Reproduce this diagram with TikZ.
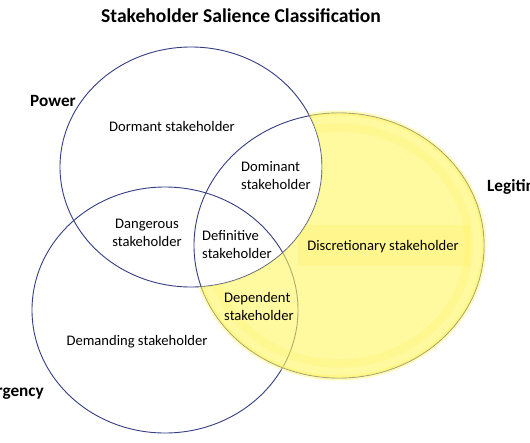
\documentclass[tikz,border=0pt]{standalone}
\usepackage{fontspec}
\setmainfont{Carlito}
\definecolor{circ}{RGB}{52,62,130}
\definecolor{hl}{RGB}{255,245,95}
\definecolor{hlband}{RGB}{255,238,60}
\begin{document}
\begin{tikzpicture}[x=1pt,y=-1pt,
  ring/.style={draw=circ,line width=0.9pt},
  lbl/.style={font=\fontsize{14.6}{18}\selectfont,inner sep=0pt,align=center},
  lbll/.style={font=\fontsize{14.6}{18}\selectfont,inner sep=0pt,align=left},
  setname/.style={font=\fontsize{17.2}{20}\selectfont\bfseries,inner sep=0pt},
  titletext/.style={font=\fontsize{19.6}{23}\selectfont\bfseries,inner sep=0pt}]
\useasboundingbox (0,0) rectangle (530,442);
\fill[white] (0,0) rectangle (530,442);
% circles
\draw[ring] (191,167) ellipse [x radius=131, y radius=120];
\draw[ring] (339,245.5) ellipse [x radius=145, y radius=132.5];
\draw[ring] (165,310) ellipse [x radius=133, y radius=123];
% highlight: legitimacy minus power
\begin{scope}[even odd rule]
  \clip (-10,-10) rectangle (540,452) (191,167) ellipse [x radius=131, y radius=120];
  \draw[hl,line width=5pt,opacity=0.4] (339,245.5) ellipse [x radius=145, y radius=132.5];
  \begin{scope}
    \clip (339,245.5) ellipse [x radius=145, y radius=132.5];
    \fill[hl,opacity=0.6] (-10,-10) rectangle (540,452);
    \fill[hlband,opacity=0.18] (298,225) rectangle (470,266);
    \draw[hlband,opacity=0.15,line width=8pt] (339,245.5) ellipse [x radius=130, y radius=118];
  \end{scope}
\end{scope}
% labels
\node[titletext] (title) at (241,16) {Stakeholder Salience Classification};
\node[setname] (power) at (53,101) {Power};
\node[setname,anchor=west] (legit) at (487,187) {Legitimacy};
\node[setname,anchor=east] (urg) at (44,392) {Urgency};
\node[lbl] (dormant) at (172,126) {Dormant stakeholder};
\node[lbll,anchor=west] (dominant) at (241,176) {Dominant\\stakeholder};
\node[lbl] (dangerous) at (147,233) {Dangerous\\stakeholder};
\node[lbll,anchor=west] (definitive) at (202,245) {Definitive\\stakeholder};
\node[lbl] (discretionary) at (383,247) {Discretionary stakeholder};
\node[lbll,anchor=west] (dependent) at (224,306) {Dependent\\stakeholder};
\node[lbl] (demanding) at (137,342) {Demanding stakeholder};
\end{tikzpicture}
\end{document}
